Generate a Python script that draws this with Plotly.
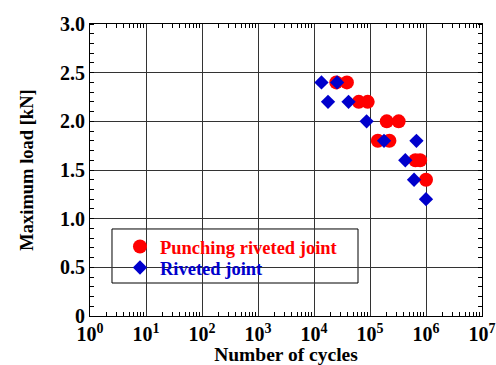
import plotly.graph_objects as go

# Punching riveted joint (red circles)
punch_cycles = [25000, 38700, 63000, 91000, 199000, 325000, 138000, 222000, 646000, 785000, 1000000]
punch_load = [2.4, 2.4, 2.2, 2.2, 2.0, 2.0, 1.8, 1.8, 1.6, 1.6, 1.4]

# Riveted joint (blue diamonds)
rivet_cycles = [13600, 25900, 17800, 41400, 87000, 178000, 675000, 427000, 612000, 1000000]
rivet_load = [2.4, 2.4, 2.2, 2.2, 2.0, 1.8, 1.8, 1.6, 1.4, 1.2]

x_tickvals = [1, 10, 100, 1000, 10000, 100000, 1000000, 10000000]
x_ticktext = ["10<sup>%d</sup>" % i for i in range(8)]
y_tickvals = [0, 0.5, 1.0, 1.5, 2.0, 2.5, 3.0]
y_ticktext = ["0", "0.5", "1.0", "1.5", "2.0", "2.5", "3.0"]

font_family = "Liberation Serif"

fig = go.Figure()
fig.add_trace(go.Scatter(
    x=punch_cycles, y=punch_load, mode="markers",
    name="<b><span style='color:#ff0000'>Punching riveted joint</span></b>",
    marker=dict(symbol="circle", size=14, color="#ff0000"),
    legend="legend",
))
fig.add_trace(go.Scatter(
    x=rivet_cycles, y=rivet_load, mode="markers",
    name="<b><span style='color:#0000cc'>Riveted joint</span></b>",
    marker=dict(symbol="diamond", size=11, color="#0000cc"),
    legend="legend2",
))

leg_common = dict(
    xanchor="left", yanchor="middle", bgcolor="rgba(0,0,0,0)", borderwidth=0,
    font=dict(family=font_family, size=18.5, weight="bold"),
    itemwidth=30,
)

fig.update_layout(
    width=496, height=365,
    margin=dict(l=90, r=14, t=24, b=49),
    paper_bgcolor="white", plot_bgcolor="white",
    font=dict(family=font_family, size=17, color="black", weight="bold"),
    showlegend=True,
    legend=dict(x=0.0765, y=0.2363, **leg_common),
    legend2=dict(x=0.0765, y=0.1644, **leg_common),
    shapes=[dict(type="rect", xref="paper", yref="paper",
                 x0=0.0561, x1=0.6837, y0=0.113, y1=0.298,
                 line=dict(color="black", width=1), fillcolor="white", layer="below")],
)

fig.update_xaxes(
    type="log", range=[0, 7], automargin=False,
    tickvals=x_tickvals, ticktext=x_ticktext,
    tickfont=dict(family=font_family, size=20, color="black", weight="bold"),
    showgrid=True, gridcolor="#333333", gridwidth=1,
    showline=True, linecolor="black", linewidth=1, mirror="allticks",
    ticks="", zeroline=False,
    minor=dict(ticks="inside", ticklen=4, tickcolor="black",
               tickvals=[m * 10 ** d for d in range(7) for m in range(2, 10)],
               showgrid=False),
    title=dict(text="Number of cycles", font=dict(family=font_family, size=19.5, weight="bold"), standoff=9),
)
fig.update_yaxes(
    range=[0, 3], automargin=False,
    tickvals=y_tickvals, ticktext=y_ticktext,
    tickfont=dict(family=font_family, size=20, color="black", weight="bold"),
    showgrid=True, gridcolor="#333333", gridwidth=1,
    showline=True, linecolor="black", linewidth=1, mirror="allticks",
    ticks="", zeroline=False,
    minor=dict(ticks="inside", ticklen=4, tickcolor="black", dtick=0.1, showgrid=False),
    title=dict(text="Maximum load [kN]", font=dict(family=font_family, size=18.5, weight="bold"), standoff=21),
)

fig.write_html("out.html", config={"displayModeBar": False},
               post_script="document.body.style.margin='0';document.body.style.overflow='hidden';")
